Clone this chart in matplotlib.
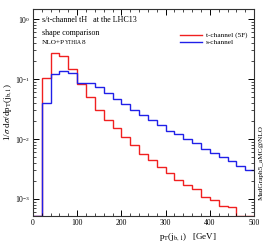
import numpy as np
import matplotlib
matplotlib.use("Agg")
import matplotlib.pyplot as plt
from matplotlib.ticker import LogLocator, MultipleLocator, NullFormatter
from matplotlib.offsetbox import TextArea, HPacker, AnchoredOffsetbox

# bin edges in GeV
edges = np.arange(0, 520, 20)

# normalised pT(j_b,1) shapes, one value per 20 GeV bin
t_channel = [0, 0.105, 0.268, 0.242, 0.145, 0.083, 0.050, 0.031, 0.021, 0.015,
             0.0107, 0.0078, 0.0056, 0.0044, 0.0034, 0.0027, 0.0021, 0.0017,
             0.00145, 0.0011, 0.00096, 0.00076, 0.00073, 0, 0]
s_channel = [0, 0.040, 0.120, 0.138, 0.128, 0.087, 0.085, 0.073, 0.058, 0.046,
             0.038, 0.030, 0.025, 0.0207, 0.0171, 0.0138, 0.0119, 0.0099,
             0.0085, 0.0067, 0.0058, 0.0051, 0.0043, 0.0036, 0.0030]

plt.rcParams['font.family'] = ['Liberation Serif', 'DejaVu Serif']
plt.rcParams['mathtext.fontset'] = 'stix'

fig = plt.figure(figsize=(2.7, 2.43), dpi=100)
ax = fig.add_axes([0.122, 0.111, 0.819, 0.852])

ymin = 5.2e-4
for vals, col, lab in [(t_channel, '#f02020', 't-channel (5F)'),
                       (s_channel, '#2020e8', 's-channel')]:
    v = np.array(vals, dtype=float)
    # empty bins sit on the bottom of the frame
    v = np.where(v > 0, v, ymin * 1.01)
    ax.stairs(v, edges, color=col, lw=1.0, label=lab, baseline=None)

ax.set_yscale('log')
ax.set_xlim(0, 500)
ax.set_ylim(ymin, 1.47)

ax.xaxis.set_major_locator(MultipleLocator(100))
ax.xaxis.set_minor_locator(MultipleLocator(20))
ax.yaxis.set_major_locator(LogLocator(base=10, numticks=10))
ax.yaxis.set_minor_locator(LogLocator(base=10, subs=np.arange(2, 10), numticks=10))
ax.yaxis.set_minor_formatter(NullFormatter())
ax.tick_params(which='both', direction='in', top=True, right=True, labelsize=5.5, pad=2)
ax.tick_params(which='major', length=4, width=0.7)
ax.tick_params(which='minor', length=2, width=0.5)
for s in ax.spines.values():
    s.set_linewidth(0.8)
    s.set_color('#333333')

ax.set_xlabel(r'p$_\mathrm{T}$(j$_{\mathrm{b},1}$)   [GeV]', fontsize=6.5, labelpad=2)
ax.xaxis.set_label_coords(0.7, -0.075)
ax.set_ylabel(r'1/$\sigma$ d$\sigma$/dp$_\mathrm{T}$(j$_{\mathrm{b},1}$)', fontsize=6.5, labelpad=1)

ax.text(0.04, 0.965, 's/t-channel tH   at the LHC13', transform=ax.transAxes,
        fontsize=5.8, va='top')
ax.text(0.04, 0.905, 'shape comparison', transform=ax.transAxes, fontsize=5.8, va='top')

# NLO+PYTHIA8 with small caps
parts = [TextArea('NLO+P', textprops=dict(fontsize=5.2)),
         TextArea('YTHIA', textprops=dict(fontsize=4.0)),
         TextArea('8', textprops=dict(fontsize=5.2))]
pack = HPacker(children=parts, align='baseline', pad=0, sep=0)
ab = AnchoredOffsetbox(loc='upper left', child=pack, frameon=False, pad=0, borderpad=0,
                       bbox_to_anchor=(0.04, 0.85), bbox_transform=ax.transAxes)
ax.add_artist(ab)

leg = ax.legend(loc='upper right', bbox_to_anchor=(1.0, 0.92), fontsize=5.2, frameon=False,
                handlelength=3.0, handletextpad=0.6, labelspacing=0.1)

fig.text(0.967, 0.33, 'MadGraph5_aMC@NLO', rotation=90, fontsize=5.2,
         ha='center', va='center')

fig.savefig('out.png', dpi=100)
